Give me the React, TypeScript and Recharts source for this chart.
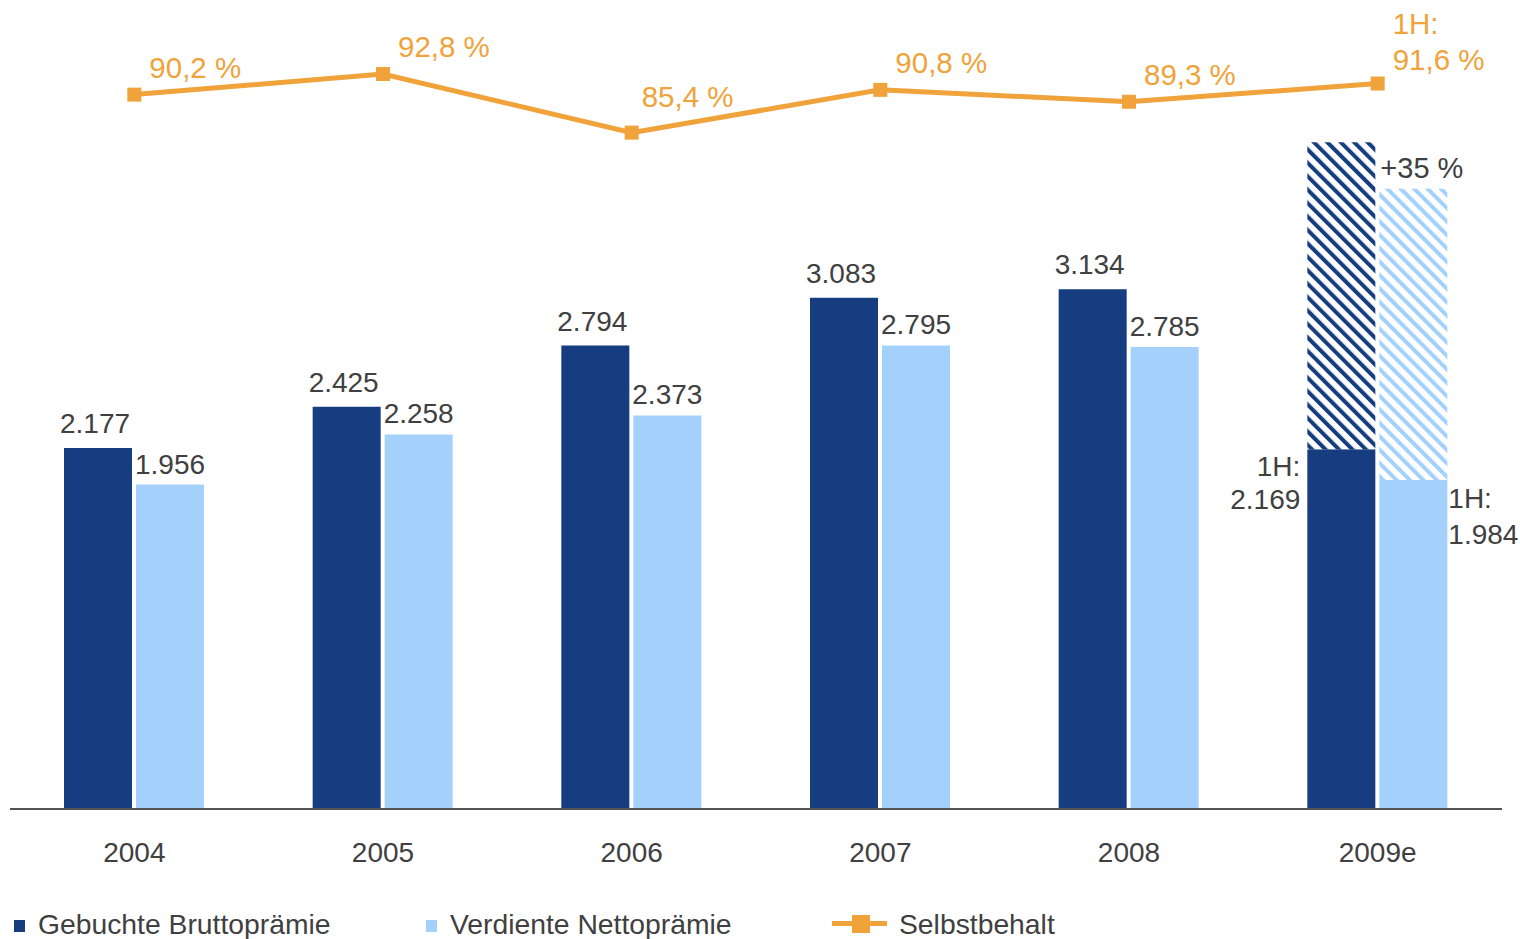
import { Bar, ComposedChart, LabelList, Line, XAxis, YAxis } from "recharts";

const years = ["2004", "2005", "2006", "2007", "2008", "2009e"];
const brutto = [2177, 2425, 2794, 3083, 3134, 2169];
const bruttoRest = [0, 0, 0, 0, 0, 1851];
const netto = [1956, 2258, 2373, 2795, 2785, 1984];
const nettoRest = [0, 0, 0, 0, 0, 1756];
const selbstbehalt = [90.2, 92.8, 85.4, 90.8, 89.3, 91.6];
const growthLabel = "+35 %";
const halfYearPrefix = "1H:";

const DARK = "#153d7f";
const LIGHT = "#a4d1fb";
const ORANGE = "#efa33a";
const TEXT = "#404040";
const FONT = "'Liberation Sans', Arial, sans-serif";

const data = years.map((year, i) => ({
  year,
  brutto: brutto[i],
  bruttoRest: bruttoRest[i],
  netto: netto[i],
  nettoRest: nettoRest[i],
  selbst: selbstbehalt[i],
}));

const last = years.length - 1;

const fmtNum = (v: number) => {
  const s = String(Math.round(v));
  return s.length > 3 ? s.slice(0, s.length - 3) + "." + s.slice(-3) : s;
};
const fmtPct = (v: number) => v.toFixed(1).replace(".", ",") + " %";

const BruttoLabel = (p: any) => {
  const { x, y, width, value, index } = p;
  if (index === last) {
    return (
      <text x={x - 7} textAnchor="end" fontSize={28} fill={TEXT} fontFamily={FONT}>
        <tspan x={x - 7} y={y + 27}>{halfYearPrefix}</tspan>
        <tspan x={x - 7} y={y + 60}>{fmtNum(value)}</tspan>
      </text>
    );
  }
  return (
    <text x={x + width / 2 - 3} y={y - 15} textAnchor="middle" fontSize={28} fill={TEXT} fontFamily={FONT}>
      {fmtNum(value)}
    </text>
  );
};

const NettoLabel = (p: any) => {
  const { x, y, width, value, index } = p;
  if (index === last) {
    return (
      <text x={x + width + 1} fontSize={28} fill={TEXT} fontFamily={FONT}>
        <tspan x={x + width + 1} y={y + 28}>{halfYearPrefix}</tspan>
        <tspan x={x + width + 1} y={y + 64}>{fmtNum(value)}</tspan>
      </text>
    );
  }
  return (
    <text x={x + width / 2} y={y - 11} textAnchor="middle" fontSize={28} fill={TEXT} fontFamily={FONT}>
      {fmtNum(value)}
    </text>
  );
};

const GrowthLabel = (p: any) => {
  const { x, y, value } = p;
  if (!value) return null;
  return (
    <text x={x + 1} y={y - 11} fontSize={29} fill={TEXT} fontFamily={FONT}>
      {growthLabel}
    </text>
  );
};

const PctLabel = (p: any) => {
  const { x, y, value, index } = p;
  const tx = x + 15;
  if (index === last) {
    return (
      <text x={tx} fontSize={29.5} fill={ORANGE} fontFamily={FONT}>
        <tspan x={tx} y={y - 50}>{halfYearPrefix}</tspan>
        <tspan x={tx} y={y - 14}>{fmtPct(value)}</tspan>
      </text>
    );
  }
  // the 2006 label sits a little higher and closer to its point
  const dy = index === 2 ? -26 : -17;
  const dx = index === 2 ? -5 : 0;
  return (
    <text x={tx + dx} y={y + dy} fontSize={29.5} fill={ORANGE} fontFamily={FONT}>
      {fmtPct(value)}
    </text>
  );
};

const SquareDot = (p: any) => {
  const { cx, cy, index } = p;
  return <rect key={index} x={cx - 7} y={cy - 7} width={14} height={14} fill={ORANGE} />;
};

const legendText: React.CSSProperties = {
  position: "absolute",
  top: 906,
  fontSize: 28.3,
  lineHeight: "36px",
  color: TEXT,
  fontFamily: FONT,
  whiteSpace: "nowrap",
};

export default function App() {
  return (
    <div style={{ position: "absolute", left: 0, top: 0, width: 1520, height: 939, background: "#fff" }}>
      <ComposedChart
        width={1520}
        height={939}
        data={data}
        margin={{ top: 17, right: 18, left: 10, bottom: 70 }}
        barSize={68}
        barGap={4}
      >
        <defs>
          <pattern id="hatchDark" patternUnits="userSpaceOnUse" width={9.5} height={9.5} patternTransform="rotate(-45)">
            <rect width={9.5} height={9.5} fill="#fff" />
            <rect width={4} height={9.5} fill={DARK} />
          </pattern>
          <pattern id="hatchLight" patternUnits="userSpaceOnUse" width={9.5} height={9.5} patternTransform="rotate(-45)">
            <rect width={9.5} height={9.5} fill="#fff" />
            <rect width={4} height={9.5} fill={LIGHT} />
          </pattern>
        </defs>
        <XAxis
          dataKey="year"
          height={60}
          tickLine={false}
          tickSize={0}
          tickMargin={33}
          axisLine={{ stroke: "#555", strokeWidth: 2 }}
          tick={{ fontSize: 28, fill: TEXT, fontFamily: FONT }}
          interval={0}
        />
        <YAxis yAxisId="left" hide domain={[0, 4775]} />
        <YAxis yAxisId="right" hide domain={[0, 100]} />
        <Bar yAxisId="left" dataKey="brutto" stackId="a" fill={DARK} isAnimationActive={false}>
          <LabelList dataKey="brutto" content={BruttoLabel} />
        </Bar>
        <Bar yAxisId="left" dataKey="bruttoRest" stackId="a" fill="url(#hatchDark)" isAnimationActive={false} />
        <Bar yAxisId="left" dataKey="netto" stackId="b" fill={LIGHT} isAnimationActive={false}>
          <LabelList dataKey="netto" content={NettoLabel} />
        </Bar>
        <Bar yAxisId="left" dataKey="nettoRest" stackId="b" fill="url(#hatchLight)" isAnimationActive={false}>
          <LabelList dataKey="nettoRest" content={GrowthLabel} />
        </Bar>
        <Line
          yAxisId="right"
          dataKey="selbst"
          stroke={ORANGE}
          strokeWidth={5}
          dot={SquareDot}
          activeDot={false}
          isAnimationActive={false}
        >
          <LabelList dataKey="selbst" content={PctLabel} />
        </Line>
      </ComposedChart>

      <div style={{ position: "absolute", left: 14, top: 920, width: 11, height: 12, background: DARK }} />
      <div style={{ ...legendText, left: 38 }}>Gebuchte Bruttoprämie</div>
      <div style={{ position: "absolute", left: 426, top: 920, width: 11, height: 12, background: LIGHT }} />
      <div style={{ ...legendText, left: 450 }}>Verdiente Nettoprämie</div>
      <div style={{ position: "absolute", left: 832, top: 921, width: 55, height: 5, background: ORANGE }} />
      <div style={{ position: "absolute", left: 852, top: 915, width: 18, height: 18, background: ORANGE }} />
      <div style={{ ...legendText, left: 899 }}>Selbstbehalt</div>
    </div>
  );
}
